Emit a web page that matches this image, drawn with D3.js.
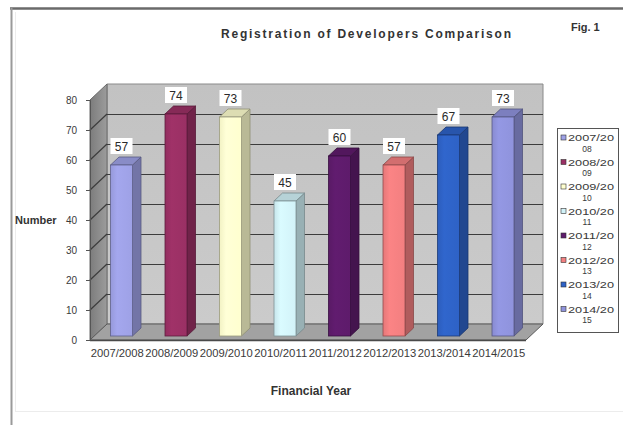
<!DOCTYPE html>
<html>
<head>
<meta charset="utf-8">
<script src="https://cdn.jsdelivr.net/npm/d3@7"></script>
<style>
  html, body { margin: 0; padding: 0; background: #ffffff; }
  svg { display: block; font-family: "Liberation Sans", Arial, sans-serif; }
</style>
</head>
<body>
<svg id="chart" width="623" height="425"></svg>
<script>
// Registrations per financial year
const years = ["2007/2008", "2008/2009", "2009/2010", "2010/2011", "2011/2012", "2012/2013", "2013/2014", "2014/2015"];
const counts = [57, 74, 73, 45, 60, 57, 67, 73];
const barColors = ["#9ea1e6", "#9a3064", "#ffffcf", "#d2f2f8", "#5e1b6b", "#f27f80", "#2e62c6", "#8f93dc"];
const yTickValues = [0, 10, 20, 30, 40, 50, 60, 70, 80];
// legend entries wrap after seven characters
const legendFirst = ["2007/20", "2008/20", "2009/20", "2010/20", "2011/20", "2012/20", "2013/20", "2014/20"];
const legendSecond = ["08", "09", "10", "11", "12", "13", "14", "15"];

const svg = d3.select("#chart");

// 3D box geometry: front plane of plot, plus depth offset to the back wall
const depth = { dx: 17, dy: -16 };
const x = d3.scaleBand().domain(years).range([90, 526]).paddingInner(0).paddingOuter(0);
const y = d3.scaleLinear().domain([0, 80]).range([340, 100]);
const xL = 90, xR = 526;

// outer frame
svg.append("line").attr("x1", 10).attr("x2", 623).attr("y1", 8.5).attr("y2", 8.5)
  .attr("stroke", "#6a6a6a").attr("stroke-width", 2.5);
svg.append("line").attr("x1", 11.5).attr("x2", 11.5).attr("y1", 8).attr("y2", 425)
  .attr("stroke", "#9a9a9a").attr("stroke-width", 2);
svg.append("line").attr("x1", 15.5).attr("x2", 15.5).attr("y1", 12).attr("y2", 412)
  .attr("stroke", "#ececec").attr("stroke-width", 1);
svg.append("line").attr("x1", 15).attr("x2", 623).attr("y1", 411.5).attr("y2", 411.5)
  .attr("stroke", "#ececec").attr("stroke-width", 1);

const defs = svg.append("defs");
const wallGrad = defs.append("linearGradient").attr("id", "leftWall").attr("x1", 0).attr("x2", 1).attr("y1", 0).attr("y2", 0);
wallGrad.append("stop").attr("offset", 0).attr("stop-color", "#7c7c7c");
wallGrad.append("stop").attr("offset", 1).attr("stop-color", "#9c9c9c");
const backGrad = defs.append("linearGradient").attr("id", "backWall").attr("x1", 0).attr("x2", 0).attr("y1", 0).attr("y2", 1);
backGrad.append("stop").attr("offset", 0).attr("stop-color", "#c2c2c2");
backGrad.append("stop").attr("offset", 1).attr("stop-color", "#cbcbcb");

const plot = svg.append("g");
const pt = (px, py) => px + "," + py;

// back wall
plot.append("polygon")
  .attr("points", [pt(xL + depth.dx, y(80) + depth.dy), pt(xR + depth.dx, y(80) + depth.dy),
                   pt(xR + depth.dx, y(0) + depth.dy), pt(xL + depth.dx, y(0) + depth.dy)].join(" "))
  .attr("fill", "url(#backWall)").attr("stroke", "#8a8a8a").attr("stroke-width", 1);

// left wall
plot.append("polygon")
  .attr("points", [pt(xL, y(0)), pt(xL, y(80)), pt(xL + depth.dx, y(80) + depth.dy), pt(xL + depth.dx, y(0) + depth.dy)].join(" "))
  .attr("fill", "url(#leftWall)").attr("stroke", "#6a6a6a").attr("stroke-width", 1);

// floor
plot.append("polygon")
  .attr("points", [pt(xL, y(0)), pt(xL + depth.dx, y(0) + depth.dy), pt(xR + depth.dx, y(0) + depth.dy), pt(xR, y(0))].join(" "))
  .attr("fill", "#a2a2a2").attr("stroke", "#5a5a5a").attr("stroke-width", 1);
plot.append("line").attr("x1", xL).attr("x2", xR).attr("y1", y(0) + 0.5).attr("y2", y(0) + 0.5)
  .attr("stroke", "#4a4a4a").attr("stroke-width", 1.5);

// gridlines on back and left walls
const grid = yTickValues.filter(v => v > 0 && v < 80);
plot.selectAll(".gridBack").data(grid).join("line")
  .attr("x1", xL + depth.dx).attr("x2", xR + depth.dx)
  .attr("y1", v => y(v) + depth.dy + 0.5).attr("y2", v => y(v) + depth.dy + 0.5)
  .attr("stroke", "#3c3c3c").attr("stroke-width", 1.2);
plot.selectAll(".gridLeft").data(grid).join("line")
  .attr("x1", xL).attr("x2", xL + depth.dx)
  .attr("y1", v => y(v)).attr("y2", v => y(v) + depth.dy)
  .attr("stroke", "#3c3c3c").attr("stroke-width", 1.2);

// y axis on the front edge of the left wall
const yAxis = svg.append("g").attr("transform", "translate(" + xL + ",0)")
  .call(d3.axisLeft(y).tickValues(yTickValues).tickSize(4).tickPadding(9));
yAxis.select(".domain").attr("stroke", "#555");
yAxis.selectAll(".tick line").attr("stroke", "#555");
yAxis.selectAll(".tick text").attr("fill", "#3a3a3a").style("font-size", "10px")
  .style("font-family", "'Liberation Sans', Arial, sans-serif");

// x axis labels, packed edge to edge across the categories
const xAxis = svg.append("g").attr("transform", "translate(0," + y(0) + ")")
  .call(d3.axisBottom(x).tickSize(0).tickPadding(9));
xAxis.select(".domain").remove();
xAxis.selectAll(".tick text").attr("fill", "#3a3a3a").style("font-size", "11px")
  .style("font-family", "'Liberation Sans', Arial, sans-serif")
  .attr("textLength", 53).attr("lengthAdjust", "spacingAndGlyphs");

// 3D columns, sitting in the middle of the depth
const bw = x.bandwidth();
const barW = 22;
const f0 = { dx: depth.dx * 0.25, dy: depth.dy * 0.25 };
const side = { dx: depth.dx * 0.5, dy: depth.dy * 0.5 };
const data = years.map((yr, i) => ({ yr, v: counts[i], c: barColors[i], i }));

const bars = plot.selectAll(".bar").data(data).join("g").attr("class", "bar");
bars.each(function(d) {
  const g = d3.select(this);
  const left = x(d.yr) + bw / 2 - barW / 2 + f0.dx;
  const right = left + barW;
  const top = y(d.v) + f0.dy;
  const bottom = y(0) + f0.dy;
  const col = d3.color(d.c);
  const fgrad = defs.append("linearGradient").attr("id", "front" + d.i)
    .attr("x1", 0).attr("x2", 1).attr("y1", 0).attr("y2", 0);
  fgrad.append("stop").attr("offset", 0).attr("stop-color", col.darker(0.15));
  fgrad.append("stop").attr("offset", 0.3).attr("stop-color", col.brighter(0.1));
  fgrad.append("stop").attr("offset", 1).attr("stop-color", col);
  // side face
  g.append("polygon")
    .attr("points", [pt(right, bottom), pt(right, top), pt(right + side.dx, top + side.dy), pt(right + side.dx, bottom + side.dy)].join(" "))
    .attr("fill", col.darker(0.9)).attr("stroke", col.darker(1.6)).attr("stroke-width", 0.8);
  // top face
  g.append("polygon")
    .attr("points", [pt(left, top), pt(right, top), pt(right + side.dx, top + side.dy), pt(left + side.dx, top + side.dy)].join(" "))
    .attr("fill", col.darker(0.4)).attr("stroke", col.darker(1.6)).attr("stroke-width", 0.8);
  // front face
  g.append("rect")
    .attr("x", left).attr("y", top).attr("width", barW).attr("height", bottom - top)
    .attr("fill", "url(#front" + d.i + ")").attr("stroke", col.darker(1.4)).attr("stroke-width", 0.8);

  // value label box above the column
  const cx = left + barW / 2;
  const cy = top + side.dy - 11;
  g.append("rect").attr("x", cx - 11).attr("y", cy - 8).attr("width", 22).attr("height", 16)
    .attr("fill", "#ffffff");
  g.append("text").attr("x", cx).attr("y", cy + 4.5).attr("text-anchor", "middle")
    .attr("fill", "#2a2a2a").style("font-size", "12px").text(d.v);
});

// titles
svg.append("text").attr("x", 366).attr("y", 38).attr("text-anchor", "middle")
  .attr("fill", "#333").style("font-size", "12px").style("font-weight", "bold")
  .attr("textLength", 290).attr("lengthAdjust", "spacing")
  .text("Registration of Developers Comparison");
svg.append("text").attr("x", 571).attr("y", 31)
  .attr("fill", "#333").style("font-size", "11px").style("font-weight", "bold")
  .text("Fig. 1");
svg.append("text").attr("x", 311).attr("y", 395).attr("text-anchor", "middle")
  .attr("fill", "#333").style("font-size", "12px").style("font-weight", "bold")
  .text("Financial Year");
svg.append("text").attr("x", 15).attr("y", 224)
  .attr("fill", "#333").style("font-size", "11px").style("font-weight", "bold")
  .text("Number");

// legend
const lg = svg.append("g");
lg.append("rect").attr("x", 557.5).attr("y", 128.5).attr("width", 61).attr("height", 204)
  .attr("fill", "#ffffff").attr("stroke", "#555").attr("stroke-width", 1);
const entries = lg.selectAll(".entry").data(legendFirst).join("g").attr("class", "entry")
  .attr("transform", (d, i) => "translate(0," + (138 + i * 24.5) + ")");
entries.append("rect").attr("x", 561).attr("y", -3).attr("width", 5).attr("height", 5)
  .attr("fill", (d, i) => barColors[i]).attr("stroke", "#333").attr("stroke-width", 0.6);
entries.append("text").attr("x", 568).attr("y", 3)
  .attr("fill", "#3a3a3a").style("font-size", "9px")
  .attr("textLength", 46).attr("lengthAdjust", "spacingAndGlyphs")
  .text(d => d);
entries.append("text").attr("x", 587).attr("y", 13.5).attr("text-anchor", "middle")
  .attr("fill", "#3a3a3a").style("font-size", "8.5px")
  .text((d, i) => legendSecond[i]);
</script>
</body>
</html>
